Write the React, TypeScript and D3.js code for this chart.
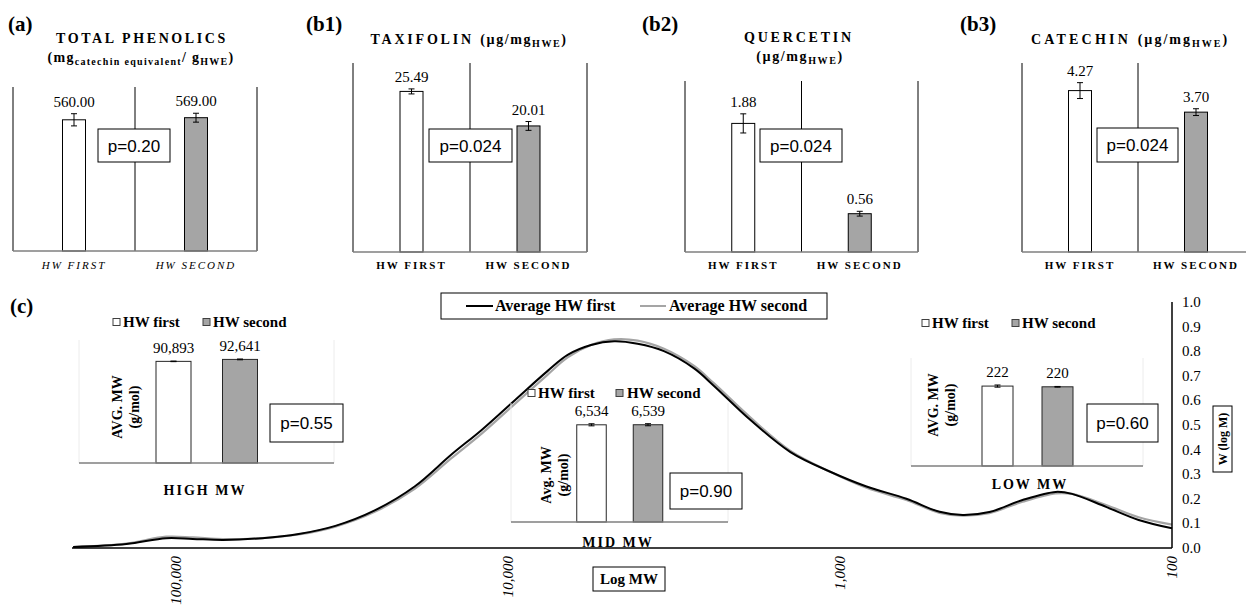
import React from "react";
import * as d3 from "d3";

const SERIF = "'Liberation Serif', 'Times New Roman', serif";
const SANS = "'Liberation Sans', Arial, sans-serif";
const GREY = "#a5a5a5";

// ---------- top panels ----------
const categoriesTop = ["HW FIRST", "HW SECOND"];
const totalPhenolics = [560.0, 569.0];
const totalPhenolicsErr = [26, 19];
const taxifolin = [25.49, 20.01];
const taxifolinErr = [0.4, 0.7];
const quercetin = [1.88, 0.56];
const quercetinErr = [0.14, 0.035];
const catechin = [4.27, 3.7];
const catechinErr = [0.21, 0.09];
const pTop = ["p=0.20", "p=0.024", "p=0.024", "p=0.024"];

// ---------- inset bar charts ----------
const insetSeries = ["HW first", "HW second"];
const highMW = [90893, 92641];
const highMWErr = [250, 350];
const midMW = [6534, 6539];
const midMWErr = [70, 70];
const lowMW = [222, 220];
const lowMWErr = [3, 1];
const pInsets = ["p=0.55", "p=0.90", "p=0.60"];

// ---------- molecular weight distribution ----------
const molWeight = [
  204000, 141000, 107000, 89000, 72000, 55000, 42700, 33100, 25100, 19100,
  14800, 12000, 9550, 7590, 6610, 5620, 4790, 4070, 3390, 2750, 2400, 1860,
  1410, 1070, 832, 631, 501, 427, 355, 282, 224, 200, 158, 126, 100,
];
const wFirst = [
  0.004, 0.016, 0.04, 0.037, 0.033, 0.04, 0.057, 0.09, 0.154, 0.25, 0.38,
  0.48, 0.6, 0.72, 0.785, 0.825, 0.84, 0.83, 0.8, 0.73, 0.66, 0.52, 0.39,
  0.31, 0.25, 0.2, 0.147, 0.134, 0.146, 0.195, 0.228, 0.22, 0.167, 0.114,
  0.08,
];
const wSecond = [
  0.004, 0.018, 0.046, 0.043, 0.036, 0.04, 0.055, 0.087, 0.148, 0.24, 0.365,
  0.465, 0.585, 0.705, 0.775, 0.825, 0.848, 0.843, 0.81, 0.74, 0.67, 0.53,
  0.395, 0.31, 0.245, 0.195, 0.143, 0.132, 0.142, 0.188, 0.222, 0.22, 0.175,
  0.125, 0.095,
];
const xTickValues = [100000, 10000, 1000, 100];
const yTickValues = [0, 0.1, 0.2, 0.3, 0.4, 0.5, 0.6, 0.7, 0.8, 0.9, 1.0];

type Box = { x: number; y: number; w: number; h: number };

function PBox({ box, label }: { box: Box; label: string }) {
  return (
    <g>
      <rect x={box.x} y={box.y} width={box.w} height={box.h} fill="#fff" stroke="#000" strokeWidth={1} />
      <text x={box.x + box.w / 2} y={box.y + box.h / 2 + 6} textAnchor="middle" fontFamily={SANS} fontSize={17}>
        {label}
      </text>
    </g>
  );
}

function ErrorBar({ cx, yLo, yHi, cap }: { cx: number; yLo: number; yHi: number; cap: number }) {
  return (
    <g stroke="#000" strokeWidth={1}>
      <line x1={cx} x2={cx} y1={yLo} y2={yHi} />
      <line x1={cx - cap} x2={cx + cap} y1={yLo} y2={yLo} />
      <line x1={cx - cap} x2={cx + cap} y1={yHi} y2={yHi} />
    </g>
  );
}

function TopPanel(props: {
  values: number[];
  errs: number[];
  maxV: number;
  x0: number;
  x1: number;
  yTop: number;
  yBase: number;
  pLabel: string;
  pBox: Box;
  italic: boolean;
}) {
  const { values, errs, maxV, x0, x1, yTop, yBase, pLabel, pBox, italic } = props;
  const x = d3.scaleBand<string>().domain(categoriesTop).range([x0, x1]).padding(0);
  const y = d3.scaleLinear().domain([0, maxV]).range([yBase, yTop]);
  const bw = 23;
  const fills = ["#fff", GREY];
  const gridXs = [x0, x(categoriesTop[1])!, x1];
  return (
    <g>
      {gridXs.map((gx, i) => (
        <line key={i} x1={gx} x2={gx} y1={yTop} y2={yBase} stroke="#000" strokeWidth={1} />
      ))}
      {categoriesTop.map((c, i) => {
        const cx = x(c)! + x.bandwidth() / 2;
        return (
          <g key={c}>
            <rect x={cx - bw / 2} y={y(values[i])} width={bw} height={yBase - y(values[i])} fill={fills[i]} stroke="#000" strokeWidth={1} />
            <ErrorBar cx={cx} yLo={y(values[i] - errs[i])} yHi={y(values[i] + errs[i])} cap={3} />
            <text x={cx} y={y(values[i] + errs[i]) - 7} textAnchor="middle" fontFamily={SERIF} fontSize={15}>
              {values[i].toFixed(2)}
            </text>
            <text
              x={cx}
              y={269}
              textAnchor="middle"
              fontFamily={SERIF}
              fontSize={11}
              fontStyle={italic ? "italic" : "normal"}
              fontWeight={italic ? "normal" : "bold"}
              letterSpacing={2}
            >
              {c}
            </text>
          </g>
        );
      })}
      <line x1={x0} x2={x1} y1={yBase} y2={yBase} stroke="#7f7f7f" strokeWidth={1.5} />
      <PBox box={pBox} label={pLabel} />
    </g>
  );
}

function Inset(props: {
  values: number[];
  errs: number[];
  maxV: number;
  plot: { x0: number; x1: number; yTop: number; yBase: number };
  centers: [number, number];
  bw: number;
  legend: { y: number; sq: [number, number]; tx: [number, number] };
  yLabel: { lines: [string, string]; xs: [number, number]; cy: number };
  pBox: Box;
  pLabel: string;
  cat: { label: string; x: number; y: number };
}) {
  const { values, errs, maxV, plot, centers, bw, legend, yLabel, pBox, pLabel, cat } = props;
  const x = d3.scalePoint<string>().domain(insetSeries).range(centers);
  const y = d3.scaleLinear().domain([0, maxV]).range([plot.yBase, plot.yTop]);
  const fills = ["#fff", GREY];
  const fmt = d3.format(",");
  return (
    <g>
      <line x1={plot.x0} x2={plot.x0} y1={plot.yTop} y2={plot.yBase} stroke="#ececec" />
      <line x1={plot.x1} x2={plot.x1} y1={plot.yTop} y2={plot.yBase} stroke="#ececec" />
      {insetSeries.map((s, i) => (
        <g key={"lg" + s}>
          <rect x={legend.sq[i]} y={legend.y - 3.5} width={7} height={7} fill={fills[i]} stroke="#404040" strokeWidth={1} />
          <text x={legend.tx[i]} y={legend.y + 5} fontFamily={SERIF} fontWeight="bold" fontSize={15}>
            {s}
          </text>
        </g>
      ))}
      {insetSeries.map((s, i) => {
        const cx = x(s)!;
        return (
          <g key={s}>
            <rect x={cx - bw / 2} y={y(values[i])} width={bw} height={plot.yBase - y(values[i])} fill={fills[i]} stroke="#262626" strokeWidth={1} />
            <ErrorBar cx={cx} yLo={y(values[i] - errs[i])} yHi={y(values[i] + errs[i])} cap={3} />
            <text x={cx} y={y(values[i] + errs[i]) - 8} textAnchor="middle" fontFamily={SERIF} fontSize={15}>
              {fmt(values[i])}
            </text>
          </g>
        );
      })}
      <line x1={plot.x0} x2={plot.x1} y1={plot.yBase} y2={plot.yBase} stroke="#7f7f7f" strokeWidth={1.5} />
      {yLabel.lines.map((l, i) => (
        <text
          key={l}
          transform={`translate(${yLabel.xs[i]},${yLabel.cy}) rotate(-90)`}
          textAnchor="middle"
          fontFamily={SERIF}
          fontWeight="bold"
          fontSize={14}
        >
          {l}
        </text>
      ))}
      <PBox box={pBox} label={pLabel} />
      <text x={cat.x} y={cat.y} textAnchor="middle" fontFamily={SERIF} fontWeight="bold" fontSize={14} letterSpacing={2}>
        {cat.label}
      </text>
    </g>
  );
}

export default function App() {
  const xScale = d3.scaleLog().domain([205600, 100]).range([72, 1172]);
  const yScale = d3.scaleLinear().domain([0, 1]).range([548, 302]);
  const pts1 = molWeight.map((m, i) => [m, wFirst[i]] as [number, number]);
  const pts2 = molWeight.map((m, i) => [m, wSecond[i]] as [number, number]);
  const line = d3
    .line<[number, number]>()
    .x((d) => xScale(d[0]))
    .y((d) => yScale(d[1]))
    .curve(d3.curveCatmullRom.alpha(0.5));
  const fmt = d3.format(",");

  const titleStyle = { fontFamily: SERIF, fontWeight: "bold" as const, fontSize: 14 };
  const panelLabel = (t: string, x: number) => (
    <text x={x} y={31} fontFamily={SERIF} fontWeight="bold" fontSize={21}>
      {t}
    </text>
  );

  return (
    <svg width={1246} height={607} style={{ position: "absolute", left: 0, top: 0, background: "#fff" }}>
      <rect x={0} y={0} width={1246} height={607} fill="#fff" />
      {/* ---------- (a) ---------- */}
      {panelLabel("(a)", 8)}
      <text x={142} y={43} textAnchor="middle" {...titleStyle} letterSpacing={2.6}>
        TOTAL PHENOLICS
      </text>
      <text x={141} y={62} textAnchor="middle" {...titleStyle} letterSpacing={1.3}>
        <tspan>(mg</tspan>
        <tspan fontSize={10} dy={3}>catechin equivalent</tspan>
        <tspan dy={-3}>/ g</tspan>
        <tspan fontSize={10} dy={3}>HWE</tspan>
        <tspan dy={-3}>)</tspan>
      </text>
      <TopPanel values={totalPhenolics} errs={totalPhenolicsErr} maxV={700} x0={13} x1={257} yTop={87} yBase={251} pLabel={pTop[0]} pBox={{ x: 98, y: 129, w: 72, h: 33 }} italic={true} />

      {/* ---------- (b1) ---------- */}
      {panelLabel("(b1)", 306)}
      <text x={469} y={44} textAnchor="middle" {...titleStyle} letterSpacing={1.6}>
        <tspan letterSpacing={2.8}>TAXIFOLIN </tspan>
        <tspan>(µg/mg</tspan>
        <tspan fontSize={10} dy={3}>HWE</tspan>
        <tspan dy={-3}>)</tspan>
      </text>
      <TopPanel values={taxifolin} errs={taxifolinErr} maxV={30} x0={353} x1={587} yTop={63} yBase={252} pLabel={pTop[1]} pBox={{ x: 429, y: 129, w: 83, h: 33 }} italic={false} />

      {/* ---------- (b2) ---------- */}
      {panelLabel("(b2)", 642)}
      <text x={799} y={42} textAnchor="middle" {...titleStyle} letterSpacing={2.8}>
        QUERCETIN
      </text>
      <text x={800} y={61} textAnchor="middle" {...titleStyle} letterSpacing={1.6}>
        <tspan>(µg/mg</tspan>
        <tspan fontSize={10} dy={3}>HWE</tspan>
        <tspan dy={-3}>)</tspan>
      </text>
      <TopPanel values={quercetin} errs={quercetinErr} maxV={2.5} x0={685} x1={918} yTop={81} yBase={252} pLabel={pTop[2]} pBox={{ x: 760, y: 129, w: 82, h: 33 }} italic={false} />

      {/* ---------- (b3) ---------- */}
      {panelLabel("(b3)", 960)}
      <text x={1130} y={44} textAnchor="middle" {...titleStyle} letterSpacing={2}>
        <tspan letterSpacing={3.2}>CATECHIN </tspan>
        <tspan>(µg/mg</tspan>
        <tspan fontSize={10} dy={3}>HWE</tspan>
        <tspan dy={-3}>)</tspan>
      </text>
      <TopPanel values={catechin} errs={catechinErr} maxV={5} x0={1022} x1={1254} yTop={63} yBase={252} pLabel={pTop[3]} pBox={{ x: 1097, y: 128, w: 81, h: 34 }} italic={false} />

      {/* ---------- (c) ---------- */}
      <text x={10} y={313} fontFamily={SERIF} fontWeight="bold" fontSize={21}>
        (c)
      </text>
      {/* curves */}
      <path d={line(pts2)!} fill="none" stroke={GREY} strokeWidth={2.2} />
      <path d={line(pts1)!} fill="none" stroke="#000" strokeWidth={2} />
      {/* axes */}
      <line x1={72} x2={1172} y1={548} y2={548} stroke="#000" strokeWidth={1.5} />
      <line x1={1172} x2={1172} y1={302} y2={548} stroke="#000" strokeWidth={1.5} />
      {yTickValues.map((v) => (
        <text key={v} x={1182} y={yScale(v) + 5} fontFamily={SERIF} fontSize={15}>
          {v.toFixed(1)}
        </text>
      ))}
      {xTickValues.map((v) => (
        <text
          key={v}
          transform={`translate(${xScale(v) + 5},556) rotate(-90)`}
          textAnchor="end"
          fontFamily={SERIF}
          fontStyle="italic"
          fontSize={15}
        >
          {fmt(v)}
        </text>
      ))}
      <rect x={593} y={567} width={72} height={24} fill="#fff" stroke="#000" strokeWidth={1} />
      <text x={629} y={584} textAnchor="middle" fontFamily={SERIF} fontWeight="bold" fontSize={15}>
        Log MW
      </text>
      <rect x={1213} y={406} width={19} height={66} fill="#fff" stroke="#000" strokeWidth={1} />
      <text transform="translate(1227,439) rotate(-90)" textAnchor="middle" fontFamily={SERIF} fontWeight="bold" fontSize={12}>
        W (log M)
      </text>
      {/* main legend */}
      <rect x={441} y={293} width={386} height={26} fill="#fff" stroke="#000" strokeWidth={1} />
      <line x1={466} x2={493} y1={306} y2={306} stroke="#000" strokeWidth={2} />
      <text x={495} y={311} fontFamily={SERIF} fontWeight="bold" fontSize={16}>
        Average HW first
      </text>
      <line x1={640} x2={666} y1={306} y2={306} stroke={GREY} strokeWidth={2} />
      <text x={669} y={311} fontFamily={SERIF} fontWeight="bold" fontSize={16}>
        Average HW second
      </text>

      {/* insets */}
      <Inset
        values={highMW}
        errs={highMWErr}
        maxV={110000}
        plot={{ x0: 79, x1: 334, yTop: 340, yBase: 463 }}
        centers={[173.5, 240]}
        bw={35}
        legend={{ y: 322, sq: [113, 203], tx: [123, 213] }}
        yLabel={{ lines: ["AVG. MW", "(g/mol)"], xs: [122, 139], cy: 407 }}
        pBox={{ x: 270, y: 404, w: 73, h: 38 }}
        pLabel={pInsets[0]}
        cat={{ label: "HIGH MW", x: 205, y: 495 }}
      />
      <Inset
        values={midMW}
        errs={midMWErr}
        maxV={8000}
        plot={{ x0: 511, x1: 728, yTop: 403, yBase: 522 }}
        centers={[591.5, 648]}
        bw={29.5}
        legend={{ y: 393, sq: [528, 616], tx: [538, 627] }}
        yLabel={{ lines: ["Avg. MW", "(g/mol)"], xs: [551, 568], cy: 475 }}
        pBox={{ x: 670, y: 473, w: 72, h: 36 }}
        pLabel={pInsets[1]}
        cat={{ label: "MID MW", x: 618, y: 547 }}
      />
      <Inset
        values={lowMW}
        errs={lowMWErr}
        maxV={300}
        plot={{ x0: 911, x1: 1143, yTop: 358, yBase: 466 }}
        centers={[997.5, 1057.5]}
        bw={31}
        legend={{ y: 323, sq: [922, 1012], tx: [932, 1022] }}
        yLabel={{ lines: ["AVG. MW", "(g/mol)"], xs: [938, 955], cy: 405 }}
        pBox={{ x: 1087, y: 404, w: 71, h: 38 }}
        pLabel={pInsets[2]}
        cat={{ label: "LOW MW", x: 1030, y: 489 }}
      />
    </svg>
  );
}
